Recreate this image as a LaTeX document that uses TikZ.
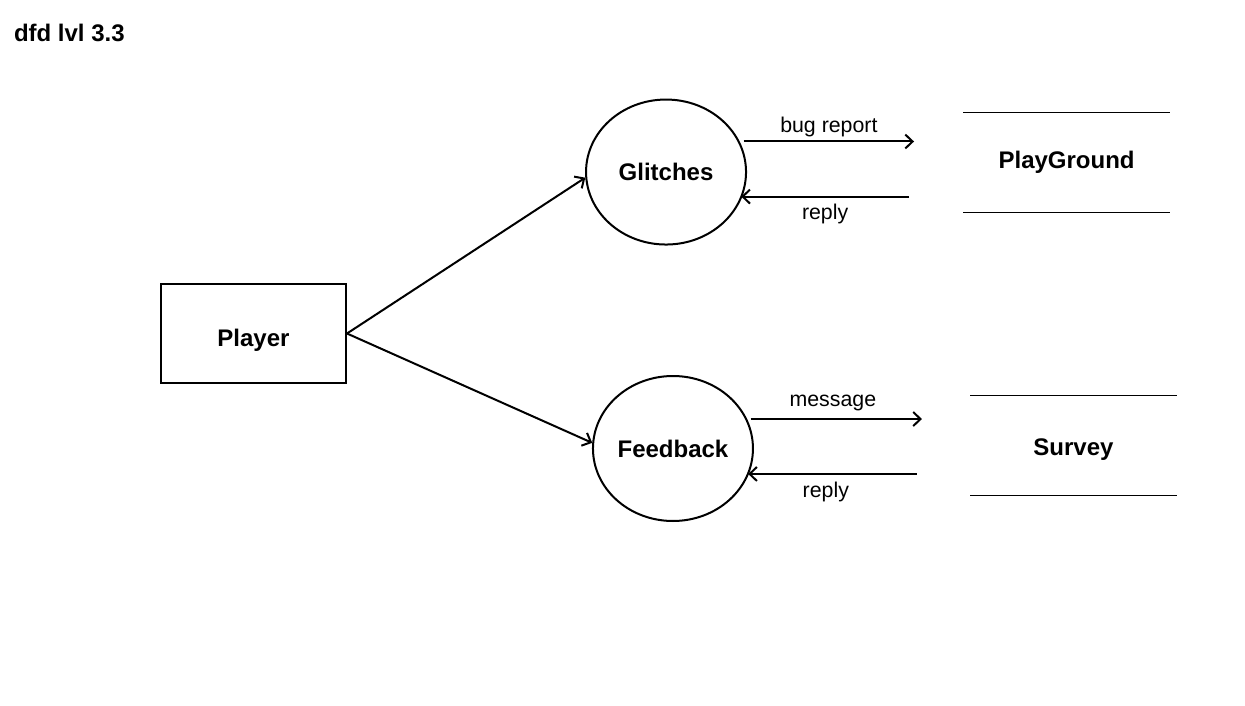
\documentclass[tikz,border=0pt]{standalone}
\usepackage{fontspec}
\setmainfont{Liberation Sans}
\usetikzlibrary{shapes.geometric,arrows.meta,positioning}

\begin{document}
\begin{tikzpicture}[x=0.75pt,y=-0.75pt,on grid,line width=1.5pt,
  >={Straight Barb[length=5.5pt,width=10.5pt]},
  process/.style={draw,ellipse,inner sep=0pt,minimum width=120pt,minimum height=108.75pt,
    font=\fontsize{18}{22}\selectfont\bfseries},
  entity/.style={draw,rectangle,minimum width=138.75pt,minimum height=74.25pt,
    font=\fontsize{18}{22}\selectfont\bfseries},
  datastore/.style={rectangle,minimum width=153.75pt,minimum height=73.5pt,
    font=\fontsize{18}{22}\selectfont\bfseries},
  flow/.style={font=\fontsize{16}{19}\selectfont,inner sep=3pt}]
  \useasboundingbox (0,0) rectangle (1245,706);
  \path
  node[anchor=base west,inner sep=0pt,font=\fontsize{18}{22}\selectfont\bfseries] (title) at (13,42) {dfd lvl 3.3}
  node[entity,text height=23.6pt,text depth=3.8pt] (player) at (253.5,333.5) {Player}
  node[process,above right=121.1pt and 309.4pt of player] (glitches) {Glitches}
  node[process,below right=86.25pt and 314.6pt of player] (feedback) {Feedback}
  node[datastore,above right=7.1pt and 300.4pt of glitches] (playground) {PlayGround}
  node[datastore,text height=19.6pt,text depth=3.8pt,above right=2.6pt and 300.4pt of feedback] (survey) {Survey}
  ;
  % free ends of the flows to the stores
  \coordinate[above right=22.9pt and 186pt of glitches] (bug_end);
  \coordinate[below right=18.4pt and 182.25pt of glitches] (reply_g);
  \coordinate[above right=22.1pt and 186.75pt of feedback] (msg_end);
  \coordinate[below right=19.1pt and 183pt of feedback] (reply_f);

  \draw[line width=0.75pt]
  (playground.north west) -- (playground.north east)
  (playground.south west) -- (playground.south east)
  (survey.north west) -- (survey.north east)
  (survey.south west) -- (survey.south east);

  \path[->]
  (player.east) edge (glitches.184)
  (player.east) edge (feedback.176)

  (glitches.15 |- bug_end) edge node[flow,above] {bug report} (bug_end)
  (reply_g) edge node[flow,below,inner sep=5pt] {reply} (reply_g -| glitches.-20)

  (feedback.15 |- msg_end) edge node[flow,above,inner sep=5pt,pos=0.48] {message} (msg_end)
  (reply_f) edge node[flow,below,inner sep=5pt,pos=0.54] {reply} (reply_f -| feedback.-20)
  ;
\end{tikzpicture}
\end{document}
